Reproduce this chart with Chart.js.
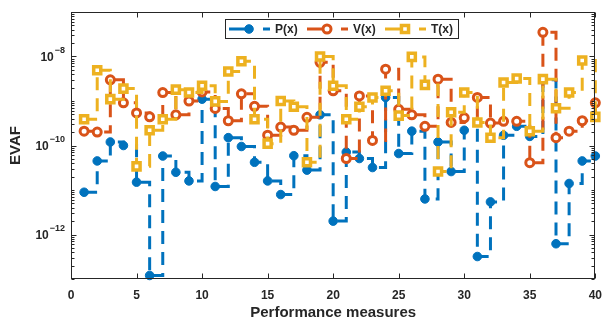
<!DOCTYPE html>
<html>
<head>
<meta charset="utf-8">
<script src="https://cdn.jsdelivr.net/npm/chart.js@4.4.0/dist/chart.umd.min.js"></script>
<style>
  html, body { margin: 0; padding: 0; background: #fff; }
  #caja { width: 611px; height: 320px; position: relative; }
</style>
</head>
<body>
<div id="caja"><canvas id="grafica"></canvas></div>
<script>
// medidas de desempeno (eje x)
const medidas = [1,2,3,4,5,6,7,8,9,10,11,12,13,14,15,16,17,18,19,20,
                 21,22,23,24,25,26,27,28,29,30,31,32,33,34,35,36,37,38,39,40];

// EVAF de cada serie
const valoresP = [8.9e-12,4.5e-11,1.2e-10,1.0e-10,1.5e-11,1.2e-13,5.8e-11,2.5e-11,1.6e-11,1.1e-9,
                  1.2e-11,1.5e-10,9.5e-11,4.2e-11,1.6e-11,7.9e-12,5.9e-11,2.8e-11,4.9e-10,2.0e-12,
                  7.1e-11,5.1e-11,3.2e-11,1.2e-9,6.6e-11,2.1e-10,6.3e-12,1.2e-10,2.6e-11,2.2e-10,
                  3.2e-13,5.4e-12,1.7e-10,2.7e-10,1.6e-10,3.0e-9,6.2e-13,1.4e-11,4.5e-11,5.8e-11];
const valoresV = [2.1e-10,2.0e-10,3.0e-9,9.1e-10,5.4e-10,4.4e-10,1.55e-9,4.9e-10,1.0e-9,1.6e-9,
                  6.8e-10,3.6e-10,1.45e-9,7.6e-10,1.7e-10,2.6e-10,2.2e-10,4.3e-10,7.4e-9,1.7e-9,
                  5.1e-11,1.3e-9,1.3e-10,5.2e-9,6.5e-10,4.9e-10,2.7e-10,3.1e-9,3.3e-10,4.2e-10,
                  1.2e-9,3.2e-10,3.5e-10,3.5e-10,4.1e-11,3.5e-8,1.5e-10,2.1e-10,3.6e-10,9.1e-10];
const valoresT = [3.9e-10,4.9e-9,1.1e-9,1.9e-9,3.4e-11,2.2e-10,3.9e-10,1.8e-9,1.55e-9,2.2e-9,
                  9.8e-10,4.6e-9,7.8e-9,3.9e-10,1.1e-10,1.0e-9,7.4e-10,4.2e-11,1.0e-8,2.2e-9,
                  3.9e-10,7.4e-10,1.2e-9,1.7e-9,4.7e-10,9.8e-9,2.3e-9,2.6e-11,5.6e-10,1.55e-9,
                  3.3e-10,1.5e-10,2.6e-9,3.2e-9,2.1e-10,3.1e-9,6.9e-10,1.55e-9,8.1e-9,4.4e-10];

const nombres = ['P(x)', 'V(x)', 'T(x)'];
const ticksX = [0, 5, 10, 15, 20, 25, 30, 35, 40];
const exponentesY = [-8, -10, -12];

const azul = '#0072BD', naranja = '#D95319', amarillo = '#EDB120';
const gris = '#262626';
const fuente = '"Liberation Sans", Arial, sans-serif';

function puntos(valores) {
  return medidas.map((m, i) => ({ x: m, y: valores[i] }));
}

// marco, ticks hacia adentro, etiquetas 10^n y leyenda estilo matlab
const marcoPlugin = {
  id: 'marco',
  afterDraw(chart) {
    const ctx = chart.ctx;
    const a = chart.chartArea;
    const sx = chart.scales.x, sy = chart.scales.y;
    const L = Math.round(a.left) + 0.5, R = Math.round(a.right) - 0.5;
    const T = Math.round(a.top) + 0.5, B = Math.round(a.bottom) - 0.5;
    ctx.save();
    ctx.strokeStyle = gris;
    ctx.lineWidth = 1;
    ctx.strokeRect(L, T, R - L, B - T);

    ctx.beginPath();
    ticksX.forEach(t => {
      const px = Math.round(sx.getPixelForValue(t)) + 0.5;
      ctx.moveTo(px, B); ctx.lineTo(px, B - 5);
      ctx.moveTo(px, T); ctx.lineTo(px, T + 5);
    });
    for (let e = -13; e <= -7; e++) {
      for (let m = 1; m <= 9; m++) {
        const v = m * Math.pow(10, e);
        if (v > 1.0001e-7) continue;
        const py = Math.round(sy.getPixelForValue(v)) + 0.5;
        const largo = (m === 1 && e % 2 === 0) ? 5 : 3;
        ctx.moveTo(L, py); ctx.lineTo(L + largo, py);
        ctx.moveTo(R, py); ctx.lineTo(R - largo, py);
      }
    }
    ctx.stroke();

    // etiquetas del eje y
    ctx.fillStyle = gris;
    ctx.textBaseline = 'middle';
    exponentesY.forEach(e => {
      const py = sy.getPixelForValue(Math.pow(10, e));
      const exp = String(e).replace('-', '\u2212');
      ctx.font = 'bold 9px ' + fuente;
      const wExp = ctx.measureText(exp).width;
      ctx.textAlign = 'right';
      ctx.fillText(exp, a.left - 6, py - 6);
      ctx.font = 'bold 12px ' + fuente;
      ctx.fillText('10', a.left - 7 - wExp, py + 1);
    });

    // leyenda
    const bx = 225.5, by = 19.5, bw = 233, bh = 19;
    ctx.fillStyle = '#fff';
    ctx.fillRect(bx, by, bw, bh);
    ctx.strokeStyle = gris;
    ctx.lineWidth = 1;
    ctx.strokeRect(bx, by, bw, bh);
    const cy = by + bh / 2;
    chart.data.datasets.slice().sort((p, q) => p.leyenda - q.leyenda).forEach((ds, k) => {
      const lx = 229 + k * 78;
      ctx.strokeStyle = ds.borderColor;
      ctx.lineWidth = 3;
      ctx.beginPath();
      ctx.moveTo(lx, cy); ctx.lineTo(lx + 24, cy);
      ctx.moveTo(lx + 34, cy); ctx.lineTo(lx + 41, cy);
      ctx.stroke();
      ctx.fillStyle = ds.pointBackgroundColor;
      ctx.strokeStyle = ds.pointBorderColor;
      ctx.lineWidth = ds.pointBorderWidth;
      ctx.beginPath();
      if (ds.pointStyle === 'rect') {
        const s = ds.pointRadius * Math.SQRT1_2;
        ctx.rect(lx + 20 - s, cy - s, 2 * s, 2 * s);
      } else {
        ctx.arc(lx + 20, cy, ds.pointRadius, 0, Math.PI * 2);
      }
      ctx.fill();
      ctx.stroke();
      ctx.fillStyle = gris;
      ctx.font = 'bold 12px ' + fuente;
      ctx.textAlign = 'left';
      ctx.fillText(ds.label, lx + 46, cy + 1);
    });
    ctx.restore();
  }
};

const comun = {
  stepped: 'before',
  fill: false,
  borderWidth: 3,
  borderDash: [13, 8],
  clip: 6
};

const data = {
  datasets: [{
    ...comun,
    label: nombres[0],
    data: puntos(valoresP),
    borderColor: azul,
    pointStyle: 'circle',
    pointRadius: 4.3,
    pointBorderWidth: 1,
    pointBackgroundColor: azul,
    pointBorderColor: azul,
    order: 3,
    leyenda: 0
  }, {
    ...comun,
    label: nombres[1],
    data: puntos(valoresV),
    borderColor: naranja,
    pointStyle: 'circle',
    pointRadius: 4,
    pointBorderWidth: 3,
    pointBackgroundColor: '#fff',
    pointBorderColor: naranja,
    order: 2,
    leyenda: 1
  }, {
    ...comun,
    label: nombres[2],
    data: puntos(valoresT),
    borderColor: amarillo,
    pointStyle: 'rect',
    pointRadius: 5,
    pointBorderWidth: 3.5,
    pointBackgroundColor: '#fff',
    pointBorderColor: amarillo,
    order: 1,
    leyenda: 2
  }]
};

const config = {
  type: 'line',
  data: data,
  options: {
    responsive: true,
    maintainAspectRatio: false,
    animation: false,
    layout: { padding: { left: 0, right: 4, top: 12, bottom: 0 } },
    plugins: { legend: { display: false }, tooltip: { enabled: false } },
    scales: {
      x: {
        type: 'linear', min: 0, max: 40,
        grid: { display: false, drawTicks: false },
        border: { display: false },
        ticks: { stepSize: 5, padding: 9, color: gris, font: { family: fuente, size: 12, weight: 'bold' } },
        title: { display: true, text: 'Performance measures', color: gris,
                 font: { family: fuente, size: 15, weight: 'bold', lineHeight: 1 }, padding: { top: 0, bottom: 0 } },
        afterFit(s) { s.height = 41; }
      },
      y: {
        type: 'logarithmic', min: 1e-13, max: 1e-7,
        grid: { display: false, drawTicks: false },
        border: { display: false },
        ticks: { display: false },
        title: { display: true, text: 'EVAF', color: gris,
                 font: { family: fuente, size: 15, weight: 'bold', lineHeight: 1 }, padding: { top: 8, bottom: 0 } },
        afterFit(s) { s.width = 71; }
      }
    }
  },
  plugins: [marcoPlugin]
};

const grafica = new Chart(document.getElementById('grafica').getContext('2d'), config);
</script>
</body>
</html>
